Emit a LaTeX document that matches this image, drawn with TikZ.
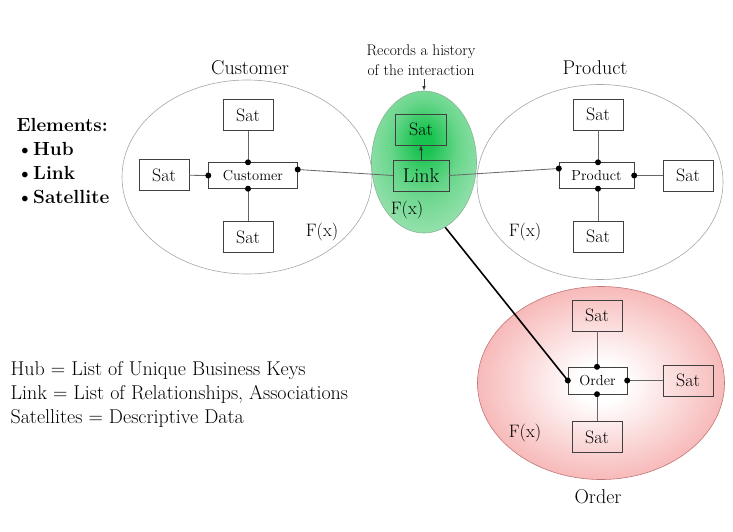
\documentclass[tikz,border=0pt]{standalone}
\usepackage{tikz}
\usetikzlibrary{arrows.meta,shapes.geometric,positioning}
\tikzset{>=latex}
\definecolor{linkdark}{RGB}{25,195,80}
\definecolor{linklight}{RGB}{200,237,210}
\definecolor{orderpink}{RGB}{243,148,148}
\pgfdeclareradialshading{linkglow}{\pgfpoint{0bp}{8bp}}{color(0bp)=(linkdark); color(4bp)=(linkdark); color(16bp)=(linkdark!55!linklight); color(32bp)=(linkdark!22!linklight); color(50bp)=(linklight)}
\pgfdeclareradialshading{orderglow}{\pgfpoint{0bp}{0bp}}{color(0bp)=(white); color(5bp)=(white); color(25bp)=(orderpink!65!white); color(50bp)=(orderpink)}
\tikzset{
  sat/.style={draw=black!75, minimum width=50pt, minimum height=31pt, inner sep=0pt, font=\fontsize{18}{20}\selectfont},
  hub/.style={draw=black!75, minimum height=26pt, inner sep=0pt, font=\fontsize{14.5}{16}\selectfont},
  area/.style={ellipse, draw=black!35, line width=0.6pt},
  conn/.style={draw=black!60, line width=0.8pt},
  big/.style={font=\fontsize{20}{24}\selectfont},
  fx/.style={font=\fontsize{18}{20}\selectfont},
}
\newcommand{\satline}[2]{
   \draw[conn] (#1) -- (#2);
   \fill (#2) circle (3pt);
}

\begin{document}
\begin{tikzpicture}[x=1pt,y=-1pt]
		\useasboundingbox (0,0) rectangle (733,531);

		% Areas
		\node[area, minimum width=250pt, minimum height=194pt] (custarea) at (247,177) {};
		\node[area, minimum width=246pt, minimum height=195pt] (prodarea) at (600,182) {};
		\node[area, draw=orderpink!80!black, shading=orderglow, minimum width=247pt, minimum height=193pt] (ordarea) at (601,383) {};
		\node[area, draw=black!45!linkdark!50, shading=linkglow, minimum width=105pt, minimum height=142pt] (linkarea) at (424,162) {};

		\node[big] (custname) at (250,68) {Customer};
		\node[big] (prodname) at (595,68) {Product};
		\node[big] (ordname) at (598,497) {Order};

		% Customer hub
		\node[hub, minimum width=89pt] (cust) at (253,175.5) {Customer};
		\node[sat] (custsatn) at (248,115) {Sat};
		\node[sat] (custsatw) at (164,175) {Sat};
		\node[sat] (custsats) at (248,237) {Sat};
		\satline{custsatn}{custsatn |- cust.north}
		\satline{custsats}{custsats |- cust.south}
		\satline{custsatw}{cust.west}
		\node[fx] (custfx) at (322,232) {F(x)};

		% Link
		\node[hub, minimum width=56pt, minimum height=31pt, font=\fontsize{20}{22}\selectfont] (link) at (421,175.5) {Link};
		\node[sat, minimum width=51pt] (linksat) at (421,129.5) {Sat};
		\draw[->, black!80, line width=0.8pt] (link) -- (linksat);
		\node[fx] (linkfx) at (407,210) {F(x)};
		\node[align=center, font=\fontsize{15.5}{20}\selectfont] (note) at (421,60) {Records a history\\of the interaction};
		\draw[->, black!80, line width=0.6pt] (note.south -| linkarea.north) -- (linkarea.north);

		% Product hub
		\node[hub, minimum width=75pt] (prod) at (596.5,175.5) {Product};
		\node[sat] (prodsatn) at (598,114.5) {Sat};
		\node[sat] (prodsate) at (688,175.5) {Sat};
		\node[sat] (prodsats) at (598,236.5) {Sat};
		\satline{prodsatn}{prodsatn |- prod.north}
		\satline{prodsats}{prodsats |- prod.south}
		\satline{prodsate}{prod.east}
		\node[fx] (prodfx) at (525,232) {F(x)};

		% Order hub
		\node[hub, minimum width=59pt, minimum height=27pt] (ord) at (597.5,380.5) {Order};
		\node[sat] (ordsatn) at (597,315.5) {Sat};
		\node[sat] (ordsate) at (688,380.5) {Sat};
		\node[sat] (ordsats) at (597,437) {Sat};
		\satline{ordsatn}{ordsatn |- ord.north}
		\satline{ordsats}{ordsats |- ord.south}
		\satline{ordsate}{ord.east}
		\node[fx] (ordfx) at (525,433) {F(x)};

		% Hub to link
		\satline{link.west}{[yshift=6pt]cust.east}
		\satline{link.east}{[yshift=7pt]prod.west}
		\draw[line width=1.6pt] (linkarea.-72) -- (ord.west);
		\fill (ord.west) circle (3pt);

		% Legend
		\node[anchor=north west, align=left, font=\bfseries\fontsize{19}{24}\selectfont] (elements) at (13,115) {Elements:\\\textbullet Hub\\\textbullet Link\\\textbullet Satellite};
		\node[anchor=west, align=left, big] (legend) at (7,394) {Hub = List of Unique Business Keys\\Link = List of Relationships, Associations\\Satellites = Descriptive Data};
	\end{tikzpicture}
\end{document}
